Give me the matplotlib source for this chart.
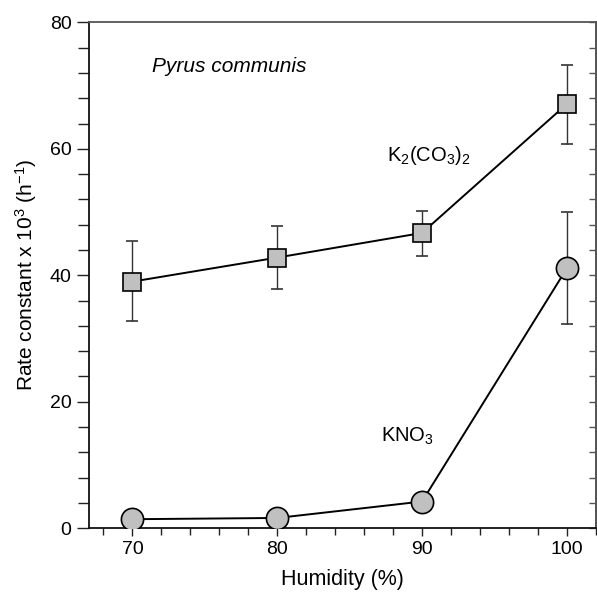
import matplotlib
matplotlib.use("Agg")
import matplotlib.pyplot as plt
from matplotlib.ticker import MultipleLocator

plt.rcParams['font.family'] = ['Liberation Sans', 'DejaVu Sans']
plt.rcParams['mathtext.default'] = 'regular'

humidity = [70, 80, 90, 100]
k2co3 = [39.0, 42.8, 46.7, 67.1]
k2co3_err_low = [6.3, 4.9, 3.6, 6.3]
k2co3_err_high = [6.4, 5.0, 3.5, 6.2]
kno3 = [1.4, 1.6, 4.2, 41.1]
kno3_err_low = [0, 0, 0, 8.8]
kno3_err_high = [0, 0, 0, 8.9]

fig = plt.figure(figsize=(5.97, 5.92), dpi=100)
ax = fig.add_axes([0.149, 0.108, 0.849, 0.854])

fill = '#c0c0c0'
ax.errorbar(humidity, k2co3, yerr=[k2co3_err_low, k2co3_err_high], fmt='-s',
            color='black', lw=1.4, ms=13.5, mfc=fill, mec='black', mew=1.2,
            ecolor='#333333', elinewidth=1.0, capsize=4.5, capthick=1.0, zorder=3)
ax.errorbar(humidity, kno3, yerr=[kno3_err_low, kno3_err_high], fmt='-o',
            color='black', lw=1.4, ms=16, mfc=fill, mec='black', mew=1.2,
            ecolor='#333333', elinewidth=1.0, capsize=4.5, capthick=1.0, zorder=3,
            errorevery=(3, 1))

ax.set_xlim(67, 102)
ax.set_ylim(0, 80)
ax.xaxis.set_major_locator(MultipleLocator(10))
ax.xaxis.set_minor_locator(MultipleLocator(2))
ax.yaxis.set_major_locator(MultipleLocator(20))
ax.yaxis.set_minor_locator(MultipleLocator(4))

ax.tick_params(axis='both', which='both', direction='out', labelsize=14, width=1.0, color='#222222')
ax.tick_params(axis='y', which='major', length=9)
ax.tick_params(axis='y', which='minor', length=8)
ax.tick_params(axis='x', which='major', length=6)
ax.tick_params(axis='x', which='minor', length=5)

sec = ax.secondary_yaxis('right')
sec.yaxis.set_major_locator(MultipleLocator(4))
sec.tick_params(direction='in', length=5, width=1.0, labelright=False, color='#555555')
sec.spines['right'].set_linewidth(1.3)
sec.spines['right'].set_color('#555555')

for s in ['left', 'bottom']:
    ax.spines[s].set_linewidth(1.3)
    ax.spines[s].set_color('#111111')
for s in ['top', 'right']:
    ax.spines[s].set_linewidth(1.3)
    ax.spines[s].set_color('#555555')

ax.set_xlabel('Humidity (%)', fontsize=15.5, labelpad=8)
ax.set_ylabel('Rate constant x 10$^3$ (h$^{-1}$)', fontsize=15, labelpad=8)

ax.text(71.35, 73, 'Pyrus communis', fontsize=15, style='italic', va='center', ha='left')
ax.text(87.6, 59.0, 'K$_2$(CO$_3$)$_2$', fontsize=14.5, va='center', ha='left')
ax.text(87.15, 14.5, 'KNO$_3$', fontsize=14.5, va='center', ha='left')

fig.savefig('out.png', dpi=100)
